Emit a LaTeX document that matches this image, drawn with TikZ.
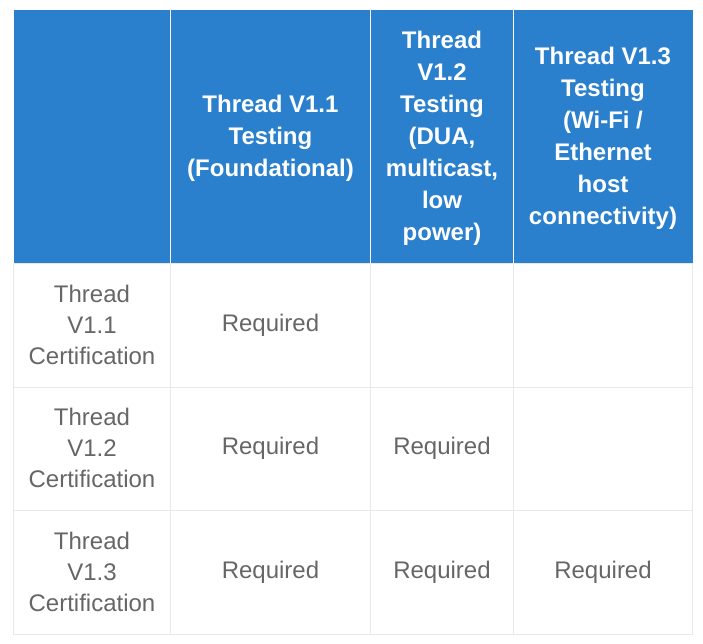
\documentclass[tikz,border=0pt]{standalone}
\usepackage{fontspec}
\setmainfont{Liberation Sans}
\definecolor{headblue}{HTML}{2A80CD}
\definecolor{cellgray}{HTML}{666666}
\definecolor{gridgray}{HTML}{E8E8E8}
\begin{document}
\begin{tikzpicture}[
    x = 1pt,
    y = -1pt,
    head/.style = {align = center, text = white, inner sep = 0pt,
      font = \bfseries\fontsize{24}{32}\selectfont},
    cell/.style = {align = center, text = cellgray, inner sep = 0pt,
      font = \fontsize{24}{31}\selectfont},
    grid/.style = {draw = gridgray, line width = 1pt},
    ]
    \useasboundingbox (0, 0) rectangle (703, 644);

    % column and row borders
    \def\xa{13.5} \def\xb{170.5} \def\xc{370.5} \def\xd{513.5} \def\xe{692.5}
    \def\ya{10} \def\yb{263} \def\yc{387} \def\yd{510} \def\ye{634}

    % body grid
    \draw[grid] (\xa, \yb) rectangle (\xe, \ye);
    \foreach \y in {\yc, \yd}{ \draw[grid] (\xa, \y) -- (\xe, \y); }
    \foreach \x in {\xb, \xc, \xd}{ \draw[grid] (\x, \yb) -- (\x, \ye); }

    % header band
    \fill[headblue] (\xa, \ya) rectangle (\xe, \yb);
    \foreach \x in {\xb, \xc, \xd}{ \draw[white, line width = 1pt] (\x, \ya) -- (\x, \yb); }

    % header texts
    \node[head] (h11) at ({(\xb+\xc)/2}, 138) {Thread V1.1\\Testing\\(Foundational)};
    \node[head] (h12) at ({(\xc+\xd)/2}, 138) {Thread\\V1.2\\Testing\\(DUA,\\multicast,\\low\\power)};
    \node[head] (h13) at ({(\xd+\xe)/2}, 138) {Thread V1.3\\Testing\\(Wi-Fi /\\Ethernet\\host\\connectivity)};

    % row labels
    \node[cell] (c11) at ({(\xa+\xb)/2}, 325) {Thread\\V1.1\\Certification};
    \node[cell] (c12) at ({(\xa+\xb)/2}, 448) {Thread\\V1.2\\Certification};
    \node[cell] (c13) at ({(\xa+\xb)/2}, 572) {Thread\\V1.3\\Certification};

    % required marks
    \node[cell] (r11) at ({(\xb+\xc)/2}, 325) {Required};
    \node[cell] (r21) at ({(\xb+\xc)/2}, 448) {Required};
    \node[cell] (r22) at ({(\xc+\xd)/2}, 448) {Required};
    \node[cell] (r31) at ({(\xb+\xc)/2}, 572) {Required};
    \node[cell] (r32) at ({(\xc+\xd)/2}, 572) {Required};
    \node[cell] (r33) at ({(\xd+\xe)/2}, 572) {Required};
\end{tikzpicture}
\end{document}
